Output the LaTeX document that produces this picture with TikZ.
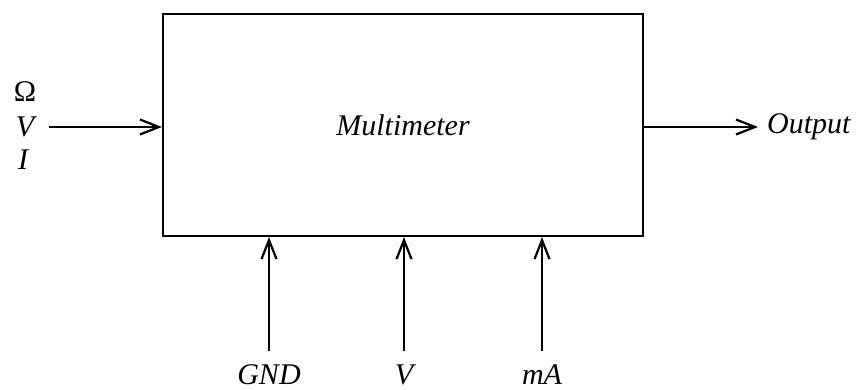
\documentclass[tikz,border=0pt]{standalone}
\usepackage{fontspec}
\setmainfont{Liberation Serif}
\usetikzlibrary{arrows.meta}
\begin{document}
\begin{tikzpicture}[x=1pt,y=-1pt,
  lbl/.style={font=\fontsize{30}{35}\selectfont\itshape, inner sep=0pt},
  conn/.style={line width=2.2pt, -{Straight Barb[length=19pt,width=15pt,line width=2.2pt]}}]
\useasboundingbox (0,0) rectangle (862,390);
\node[draw, line width=2.2pt, minimum width=480pt, minimum height=222pt, inner sep=0pt, lbl] (mm) at (403,125) {Multimeter};
\coordinate (inL) at (49,127);
\coordinate (inR) at (mm.west |- inL);
\coordinate (outL) at (mm.east |- inL);
\coordinate (outR) at (758,127);
\node[lbl, font=\fontsize{30}{35}\selectfont\upshape, anchor=center] (om) at (25,92) {Ω};
\node[lbl, anchor=center] (v) at (25,127) {V};
\node[lbl, anchor=center] (i) at (23,160) {I};
\node[lbl, anchor=west] (out) at (767,127) {Output};
\draw[conn] (inL) -- (inR);
\draw[conn] (outL) -- (outR);
\node[lbl, anchor=center] (gnd) at (269,375) {GND};
\node[lbl, anchor=center] (vb) at (404,375) {V};
\node[lbl, anchor=center] (ma) at (542,375) {mA};
\coordinate (g0) at (269,351);
\coordinate (v0) at (404,351);
\coordinate (m0) at (542,351);
\draw[conn] (g0) -- (g0 |- mm.south);
\draw[conn] (v0) -- (v0 |- mm.south);
\draw[conn] (m0) -- (m0 |- mm.south);
\end{tikzpicture}
\end{document}
